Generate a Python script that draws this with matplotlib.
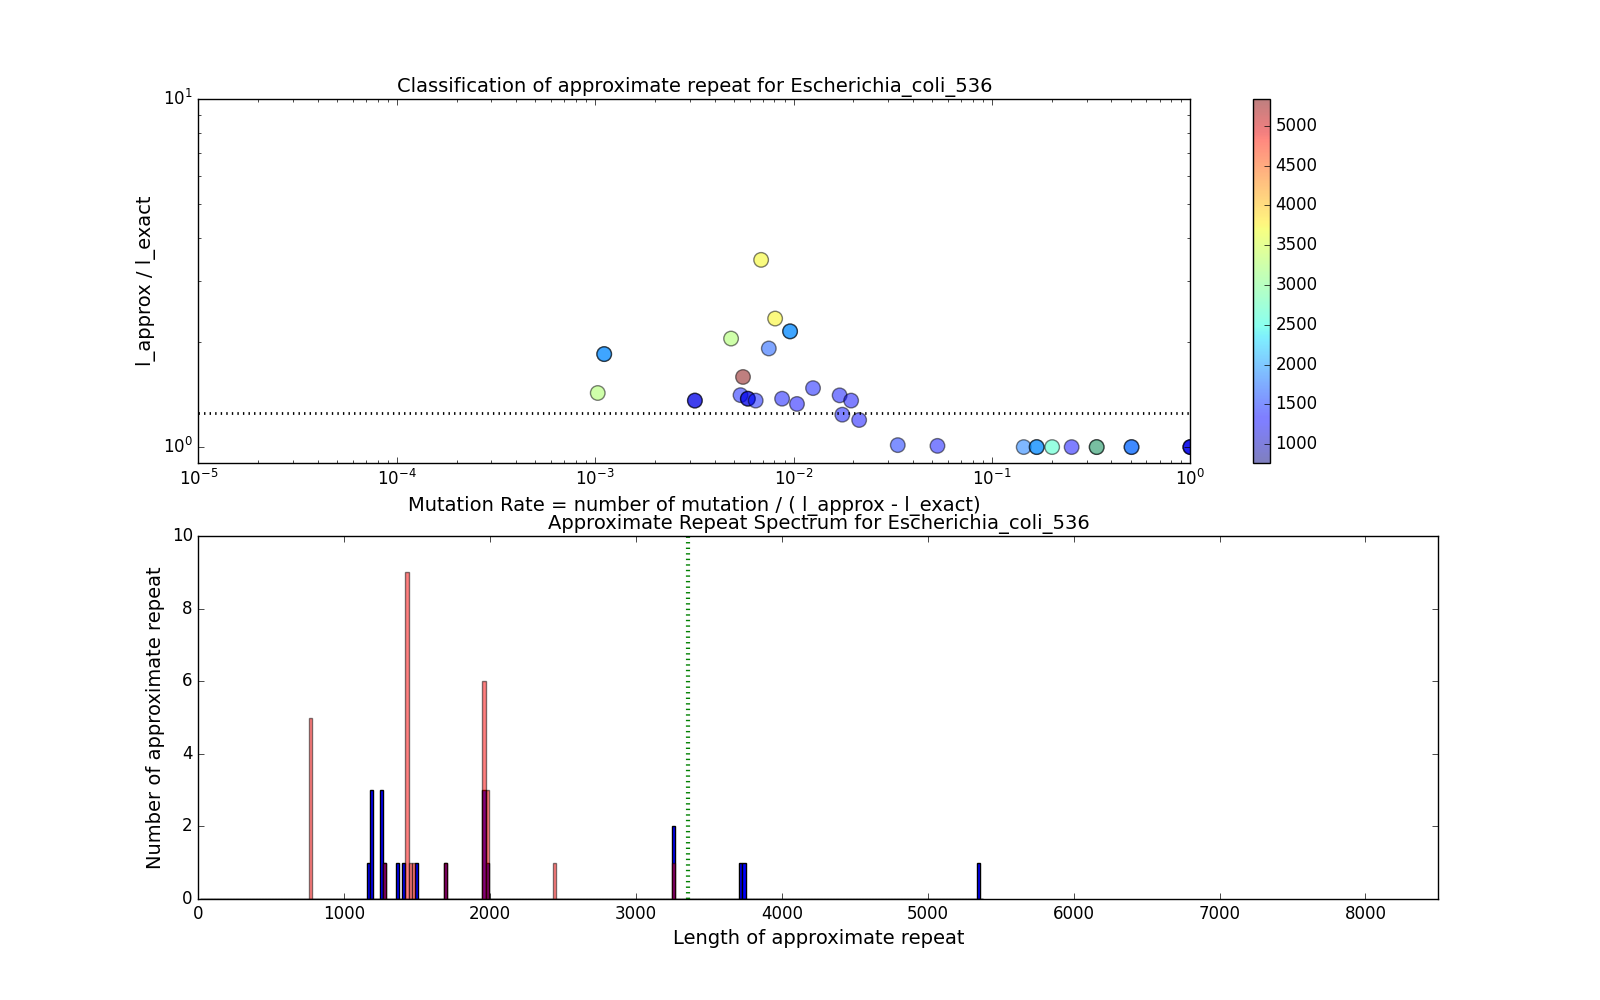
import numpy as np
import matplotlib
matplotlib.use("Agg")
import matplotlib.pyplot as plt

# ชื่อจีโนม
genome = "Escherichia_coli_536"

# ข้อมูลจุด scatter: mutation rate, l_approx / l_exact, ความยาว (ใช้เป็นสี)
mut_rate = [0.00686, 0.00807, 0.0096, 0.0096, 0.00484, 0.0075, 0.00111, 0.00111,
            0.00556, 0.00103, 0.00318, 0.00318, 0.0054, 0.00588, 0.00588, 0.00644,
            0.00875, 0.0104, 0.01253, 0.01706, 0.0195, 0.0176, 0.0214, 0.0335,
            0.0531, 0.1445, 0.168, 0.168, 0.201, 0.252, 0.337, 0.337,
            0.505, 0.505, 1.0, 1.0, 1.0]
ratio = [3.45, 2.34, 2.15, 2.15, 2.05, 1.92, 1.85, 1.85,
         1.59, 1.43, 1.36, 1.36, 1.41, 1.377, 1.377, 1.36,
         1.377, 1.33, 1.477, 1.408, 1.36, 1.239, 1.196, 1.013,
         1.008, 1.0, 1.0, 1.0, 1.0, 1.0, 1.0, 1.0,
         1.0, 1.0, 1.0, 1.0, 1.0]
rep_length = [3720, 3730, 1950, 1950, 3250, 1690, 1950, 1950,
              5336, 3250, 1180, 1180, 1410, 1180, 1180, 1410,
              1380, 1300, 1400, 1380, 1300, 1380, 1300, 1500,
              1380, 1850, 1950, 1950, 2640, 1300, 5336, 2650,
              1800, 1800, 1200, 1200, 1200]
color_min, color_max = 765, 5336
ratio_threshold = 1.25

# ความยาวของ approximate repeat (สองชุด)
lengths_blue = [1172, 1190, 1190, 1190, 1252, 1252, 1252, 1270, 1365, 1410,
                1495, 1690, 1955, 1955, 1955, 1978, 3255, 3255, 3715, 3738, 5354]
lengths_red = [775, 775, 775, 775, 775, 1270, 1430, 1430, 1430, 1430, 1430,
               1430, 1430, 1430, 1430, 1452, 1474, 1690, 1955, 1955, 1955,
               1955, 1955, 1955, 1978, 1978, 1978, 2452, 3255]
cutoff_length = 3358
bin_width = 22

plt.style.use("classic")
plt.rcParams['font.size'] = 12
label_size = 14

fig = plt.figure(figsize=(16, 10))
fig.patch.set_facecolor("white")

# กราฟบน: scatter
ax1 = fig.add_axes([0.124, 0.537, 0.62, 0.364])
sc = ax1.scatter(mut_rate, ratio, c=rep_length, s=110, cmap="jet", alpha=0.5,
                 vmin=color_min, vmax=color_max, edgecolors="k", linewidths=1)
ax1.axhline(ratio_threshold, color="k", linestyle=":", linewidth=2)
ax1.set_xscale("log")
ax1.set_yscale("log")
ax1.set_xlim(1e-5, 1)
ax1.set_ylim(0.9, 10)
ax1.set_title("Classification of approximate repeat for " + genome, fontsize=label_size)
ax1.set_xlabel("Mutation Rate = number of mutation / ( l_approx - l_exact)", fontsize=label_size)
ax1.set_ylabel("l_approx / l_exact", fontsize=label_size)

cax = fig.add_axes([0.783, 0.537, 0.0106, 0.364])
cb = fig.colorbar(sc, cax=cax, ticks=range(1000, 5001, 500))

# กราฟล่าง: histogram
ax2 = fig.add_axes([0.124, 0.101, 0.775, 0.363])
edges = np.arange(11, 5400, bin_width)
ax2.hist(lengths_blue, bins=edges, color="b", edgecolor="k", linewidth=1)
ax2.hist(lengths_red, bins=edges, color="r", alpha=0.5, edgecolor="k", linewidth=1)
ax2.axvline(cutoff_length, color="g", linestyle=":", linewidth=3)
ax2.set_xlim(0, 8500)
ax2.set_ylim(0, 10)
ax2.set_title("Approximate Repeat Spectrum for " + genome, fontsize=label_size)
ax2.set_xlabel("Length of approximate repeat", fontsize=label_size)
ax2.set_ylabel("Number of approximate repeat", fontsize=label_size)

plt.savefig("out.png", dpi=100, facecolor="white")
